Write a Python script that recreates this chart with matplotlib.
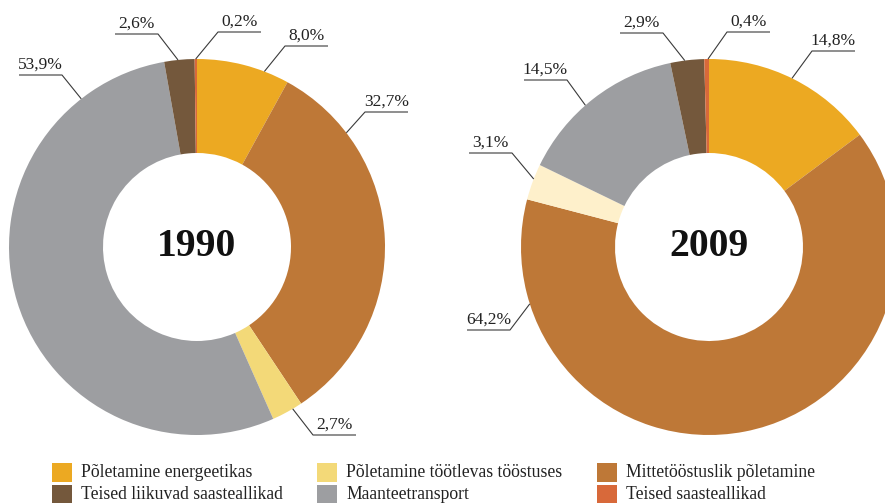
import matplotlib.pyplot as plt
from matplotlib.patches import Rectangle
import numpy as np

plt.rcParams['font.family'] = ['Liberation Serif', 'DejaVu Serif']

# andmed (%)
categories = ['Põletamine energeetikas', 'Mittetööstuslik põletamine',
              'Põletamine töötlevas tööstuses', 'Maanteetransport',
              'Teised liikuvad saasteallikad', 'Teised saasteallikad']
years = ['1990', '2009']
values_1990 = [8.0, 32.7, 2.7, 53.9, 2.6, 0.2]
values_2009 = [14.8, 64.2, 3.1, 14.5, 2.9, 0.4]
labels_1990 = ['8,0%', '32,7%', '2,7%', '53,9%', '2,6%', '0,2%']
labels_2009 = ['14,8%', '64,2%', '3,1%', '14,5%', '2,9%', '0,4%']

colors_1990 = ['#ECA922', '#BE7837', '#F3D978', '#9D9EA1', '#74583C', '#D8693A']
colors_2009 = ['#ECA922', '#BE7837', '#FEF0CB', '#9D9EA1', '#74583C', '#D8693A']

# legendi järjekord (rida kaupa)
legend_order = [0, 2, 1, 4, 3, 5]

W, H = 885, 503
R = 188
HOLE = 94


def Y(y):
    # pildi koordinaat -> telje koordinaat
    return H - y


fig = plt.figure(figsize=(W / 100, H / 100), dpi=100)
ax = fig.add_axes([0, 0, 1, 1])

centers = [(197, 247), (709, 247)]

# sildi paigutus: ankru nurk (kraadid päripäeva ülevalt), küünarnukk, joone suund
label_layout = {
    '1990': [(21, (285, 46), 1), (52.6, (365, 112), 1), (149.4, (313, 435), 1),
             (322, (62, 75), -1), (354.2, (158, 34), -1), (359.6, (218, 32), 1)],
    '2009': [(26.2, (812, 51), 1), (252.4, (510, 330), -1), (291.2, (512, 153), -1),
             (318.9, (567, 80), -1), (352.6, (663, 33), -1), (359.7, (727, 32), 1)],
}

for year, vals, cols, labs, (cx, cy) in zip(
        years, [values_1990, values_2009], [colors_1990, colors_2009],
        [labels_1990, labels_2009], centers):
    ax.pie(vals, colors=cols, startangle=90, counterclock=False,
           radius=R, center=(cx, Y(cy)),
           wedgeprops=dict(width=R - HOLE, edgecolor='none', linewidth=0))
    ax.text(cx, Y(cy), year, ha='center', va='center',
            fontsize=28.5, fontweight='bold', color='#111111')

    for lab, (ang, (ex, ey), side) in zip(labs, label_layout[year]):
        a = np.deg2rad(ang)
        px = cx + R * np.sin(a)
        py = cy - R * np.cos(a)
        ux = ex + side * 43
        ax.plot([px, ex, ux], [Y(py), Y(ey), Y(ey)], color='#3a3a3a', lw=0.8,
                solid_capstyle='butt')
        ax.text((ex + ux) / 2, Y(ey) + 2, lab, ha='center', va='bottom',
                fontsize=12.5, color='#222222')

# legend
col_x = [52, 317, 597]
row_y = [472.5, 494.5]
for k, idx in enumerate(legend_order):
    r, c = divmod(k, 3)
    x0 = col_x[c]
    yc = row_y[r]
    ax.add_patch(Rectangle((x0, Y(yc) - 9.5), 20, 19, facecolor=colors_1990[idx],
                           edgecolor='none'))
    ax.text(x0 + 29, Y(yc), categories[idx], ha='left', va='center',
            fontsize=12.7, color='#222222')

ax.set_xlim(0, W)
ax.set_ylim(0, H)
ax.set_aspect('equal')
ax.axis('off')

fig.savefig('out.png', dpi=100)
